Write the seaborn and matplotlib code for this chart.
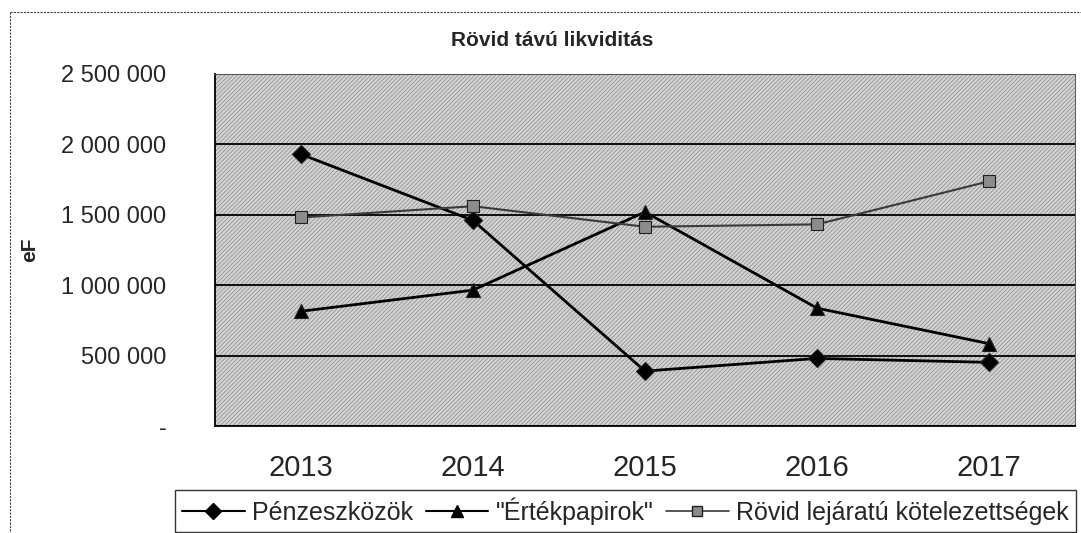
import matplotlib
matplotlib.use("Agg")
import matplotlib.pyplot as plt
from matplotlib.lines import Line2D
from matplotlib.patches import Rectangle
import seaborn as sns
import pandas as pd

years = [2013, 2014, 2015, 2016, 2017]
penzeszkozok = [1930000, 1460000, 390000, 480000, 452000]
ertekpapirok = [815000, 965000, 1520000, 837000, 585000]
rovid_lejaratu = [1481000, 1561000, 1415000, 1432000, 1738000]
series_names = ["Pénzeszközök", "\"Értékpapirok\"", "Rövid lejáratú kötelezettségek"]
ytick_values = [0, 500000, 1000000, 1500000, 2000000, 2500000]
ytick_labels = ["-", "500 000", "1 000 000", "1 500 000", "2 000 000", "2 500 000"]
title = "Rövid távú likviditás"
ylabel = "eF"

df = pd.DataFrame({
    "year": years * 3,
    "value": penzeszkozok + ertekpapirok + rovid_lejaratu,
    "series": [series_names[0]] * 5 + [series_names[1]] * 5 + [series_names[2]] * 5,
})

sns.set_theme(style="white")
plt.rcParams["font.family"] = ["Liberation Sans", "DejaVu Sans"]
plt.rcParams["hatch.linewidth"] = 0.6

fig = plt.figure(figsize=(10.81, 5.33), dpi=100)
W, H = 1081, 533
ax = fig.add_axes([215 / W, 1 - 426 / H, (1075 - 215) / W, (426 - 74) / H])
ax.patch.set_facecolor("#d2d2d2")
ax.add_patch(Rectangle((0, 0), 1, 1, transform=ax.transAxes, facecolor="#d4d4d4",
                       edgecolor="#939393", hatch="////////", lw=0, zorder=0))

palette = {series_names[0]: "black", series_names[1]: "black", series_names[2]: "#3a3a3a"}
markers = {series_names[0]: "D", series_names[1]: "^", series_names[2]: "s"}
widths = {series_names[0]: 2.0, series_names[1]: 2.0, series_names[2]: 1.5}

for name in series_names:
    sub = df[df["series"] == name]
    sns.lineplot(data=sub, x="year", y="value", ax=ax, color=palette[name],
                 linewidth=widths[name], marker=markers[name],
                 markersize=9 if name != series_names[1] else 10,
                 markerfacecolor="#8c8c8c" if name == series_names[2] else "black",
                 markeredgecolor="#202020", markeredgewidth=0.8,
                 legend=False, zorder=3)

ax.set_xlim(years[0] - 0.5, years[-1] + 0.5)
ax.set_ylim(0, 2500000)
ax.set_yticks(ytick_values)
ax.set_yticklabels(ytick_labels, fontsize=17)
ax.set_xticks(years)
ax.set_xticklabels([str(y) for y in years], fontsize=21)
ax.set_xticks([y - 0.5 for y in years] + [years[-1] + 0.5], minor=True)
ax.tick_params(axis="x", which="major", length=0, pad=20)
ax.tick_params(axis="x", which="minor", length=6, width=1, color="black", direction="out")
ax.tick_params(axis="y", which="major", length=6, width=1, color="black", direction="out", pad=29)
ax.yaxis.grid(True, color="black", linewidth=1.3)
ax.set_axisbelow(True)
ax.set_xlabel("")
ax.set_ylabel(ylabel, fontsize=15, fontweight="bold")
ax.yaxis.set_label_coords(-0.205, 0.5)
for s in ["left", "bottom"]:
    ax.spines[s].set_color("black")
    ax.spines[s].set_linewidth(1.3)
for s in ["top", "right"]:
    ax.spines[s].set_color("#555555")
    ax.spines[s].set_linewidth(0.7)

fig.text(552 / W, 1 - 40 / H, title, ha="center", va="center", fontsize=15, fontweight="bold")

handles = [
    Line2D([], [], color="black", lw=1.5, marker="D", markersize=8, markerfacecolor="black", markeredgecolor="black"),
    Line2D([], [], color="black", lw=1.5, marker="^", markersize=9, markerfacecolor="black", markeredgecolor="black"),
    Line2D([], [], color="#3a3a3a", lw=1.2, marker="s", markersize=7, markerfacecolor="#8c8c8c", markeredgecolor="#202020"),
]
leg = fig.legend(handles, series_names, loc="center", ncol=3,
                 bbox_to_anchor=(((173 + 1078) / 2) / W, 1 - 511 / H),
                 fontsize=18, frameon=True, fancybox=False, handlelength=2.5,
                 handletextpad=0.3, columnspacing=0.5, borderpad=0.3, numpoints=1)
leg.get_frame().set_edgecolor("black")
leg.get_frame().set_linewidth(1.0)

fig.add_artist(Line2D([10 / W, 1.0], [1 - 12 / H, 1 - 12 / H], color="#444444", lw=0.8, linestyle=(0, (2, 1))))
fig.add_artist(Line2D([10 / W, 10 / W], [1 - 12 / H, 0.0], color="#444444", lw=0.8, linestyle=(0, (2, 1))))

fig.savefig("out.png", dpi=100)
